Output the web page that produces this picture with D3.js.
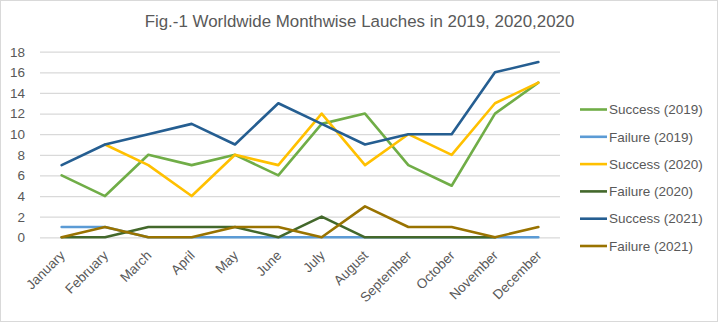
<!DOCTYPE html>
<html><head><meta charset="utf-8">
<script src="https://cdn.jsdelivr.net/npm/d3@7"></script>
<style>
html,body{margin:0;padding:0;background:#fff;}
svg{display:block;font-family:"Liberation Sans",Arial,sans-serif;}
</style></head>
<body><svg id="c" width="718" height="323"></svg>
<script>
const months = ["January","February","March","April","May","June","July","August","September","October","November","December"];
const yTicks = [0,2,4,6,8,10,12,14,16,18];
const title = "Fig.-1 Worldwide Monthwise Lauches in 2019, 2020,2020";
const seriesNames = ["Success (2019)","Failure (2019)","Success (2020)","Failure (2020)","Success (2021)","Failure (2021)"];
const seriesColors = ["#70AD47","#5B9BD5","#FFC000","#43682B","#255E91","#997300"];
const success2019 = [6,4,8,7,8,6,11,12,7,5,12,15];
const failure2019 = [1,1,0,0,0,0,0,0,0,0,0,0];
const success2020 = [null,9,7,4,8,7,12,7,10,8,13,15];
const failure2020 = [0,0,1,1,1,0,2,0,0,0,0,null];
const success2021 = [7,9,10,11,9,13,11,9,10,10,16,17];
const failure2021 = [0,1,0,0,1,1,0,3,1,1,0,1];
const seriesValues = [success2019,failure2019,success2020,failure2020,success2021,failure2021];

const svg = d3.select("#c");
const txt = "#595959";
svg.append("rect").attr("x",0.5).attr("y",0.5).attr("width",717).attr("height",321)
  .attr("fill","#fff").attr("stroke","#d9d9d9").attr("stroke-width",1);

const x = d3.scaleBand().domain(months).range([40,560]);
const y = d3.scaleLinear().domain([0,18]).range([237.3,51.7]);

svg.append("text").attr("x",359.5).attr("y",27).attr("text-anchor","middle")
  .attr("fill",txt).attr("font-size",16.9).text(title);

// grid
const yAxis = d3.axisLeft(y).tickValues(yTicks).tickSize(-520).tickPadding(15);
const gy = svg.append("g").attr("transform","translate(40,0)").call(yAxis);
gy.select(".domain").remove();
gy.selectAll(".tick line").attr("stroke","#d9d9d9").attr("stroke-width",1.3);
gy.selectAll(".tick text").attr("fill",txt).attr("font-size",13.5).attr("font-family","Liberation Sans, Arial, sans-serif");

// x labels
const xAxis = d3.axisBottom(x).tickSize(0).tickPadding(0);
const gx = svg.append("g").attr("transform","translate(0,237.3)").call(xAxis);
gx.select(".domain").remove();
gx.selectAll(".tick text")
  .attr("fill",txt).attr("font-size",13.5).attr("font-family","Liberation Sans, Arial, sans-serif")
  .attr("text-anchor","end").attr("y",0).attr("dy","0")
  .attr("transform","translate(4,19) rotate(-45)");

const line = d3.line()
  .defined(d => d != null)
  .x((d,i) => x(months[i]) + x.bandwidth()/2)
  .y(d => y(d));

seriesValues.forEach((vals,k) => {
  svg.append("path").datum(vals).attr("d",line)
    .attr("fill","none").attr("stroke",seriesColors[k]).attr("stroke-width",2.6)
    .attr("stroke-linejoin","round").attr("stroke-linecap","round");
});

// legend
const lg = svg.append("g");
seriesNames.forEach((n,k) => {
  const yy = 109.5 + k*27.3;
  lg.append("line").attr("x1",580).attr("x2",607).attr("y1",yy).attr("y2",yy)
    .attr("stroke",seriesColors[k]).attr("stroke-width",2.6);
  lg.append("text").attr("x",609).attr("y",yy).attr("dy","0.35em")
    .attr("fill",txt).attr("font-size",13.5).text(n);
});
</script></body></html>
